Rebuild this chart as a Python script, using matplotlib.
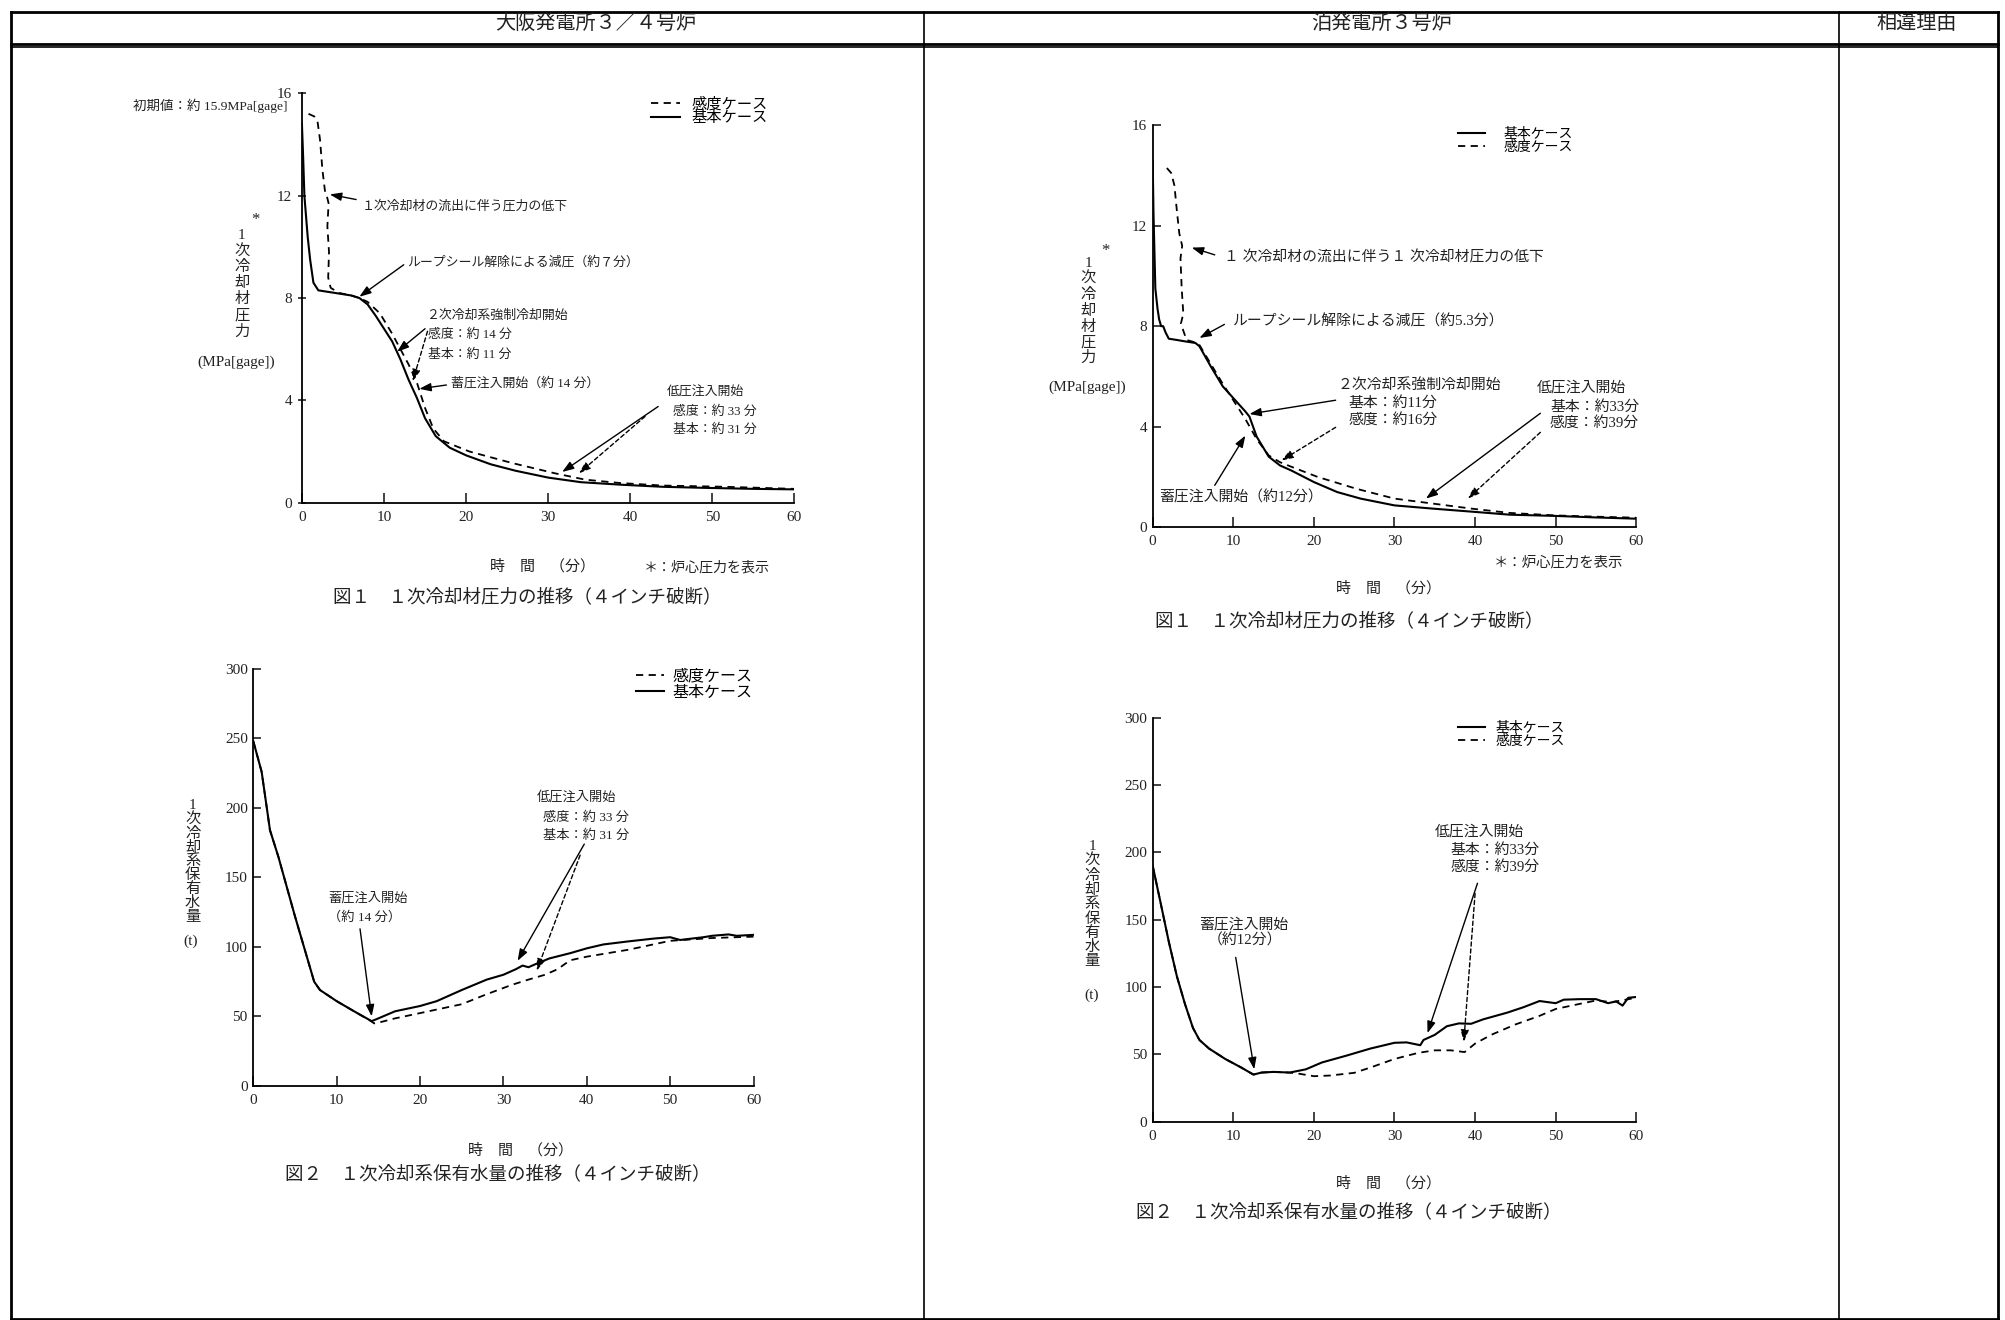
import matplotlib
matplotlib.use("Agg")
import matplotlib.pyplot as plt
from matplotlib.lines import Line2D

plt.rcParams['font.family'] = ['Liberation Serif', 'Noto Sans CJK JP', 'DejaVu Sans']

# ---- データ ----
# 大飯 図1 1次冷却材圧力
ohi_p_base_t = [0, 0.15, 0.3, 0.7, 1.0, 1.4, 2.0, 3, 4, 5, 6, 7, 8, 9, 10, 11, 12, 13, 14, 15, 16.3, 18, 20, 23, 26, 30, 34, 39, 44, 49, 55, 60]
ohi_p_base = [14.8, 13.5, 12.0, 10.4, 9.5, 8.6, 8.3, 8.25, 8.2, 8.15, 8.1, 8.0, 7.75, 7.3, 6.8, 6.3, 5.6, 4.8, 4.1, 3.3, 2.6, 2.15, 1.85, 1.5, 1.25, 0.98, 0.8, 0.7, 0.62, 0.58, 0.54, 0.52]
ohi_p_sens_t = [0.8, 1.5, 1.9, 2.2, 2.5, 2.8, 3.1, 3.25, 3.1, 3.3, 3.2, 3.5, 4.5, 6, 7, 8, 9.5, 11, 12, 13, 14, 15, 16, 17.3, 20.4, 25.6, 30.8, 34.5, 38.7, 43.9, 51.7, 60]
ohi_p_sens = [15.2, 15.1, 14.9, 14.2, 13.0, 12.2, 11.9, 11.7, 10.8, 9.8, 8.8, 8.4, 8.2, 8.1, 8.0, 7.85, 7.4, 6.6, 6.0, 5.4, 4.7, 3.7, 2.9, 2.4, 2.0, 1.55, 1.15, 0.9, 0.77, 0.67, 0.62, 0.54]

# 大飯 図2 1次冷却系保有水量
ohi_m_base_t = [0, 1, 2, 3, 5, 7.3, 8, 10, 12, 14.2, 15, 17, 20, 22, 25, 28, 30, 31.5, 32.3, 33, 34, 35.5, 38, 40, 42, 45, 48, 50, 51.2, 52, 54, 55, 57, 58, 60]
ohi_m_base = [248, 226, 184, 165, 122, 75, 69, 61, 54, 46.6, 48.6, 53.7, 57.5, 61, 69, 76.5, 80, 84, 86.6, 85.4, 88, 91.7, 95.5, 99, 101.8, 104, 106, 107, 105, 105.6, 107, 108, 109, 108, 108.7]
ohi_m_sens_t = [0, 1, 2, 3, 5, 7.3, 8, 10, 12, 14.0, 14.5, 15, 17, 20, 25, 28, 31, 33, 35, 36.5, 38, 40, 45, 50, 55, 60]
ohi_m_sens = [248, 226, 184, 165, 122, 75, 69, 61, 54, 47, 45, 45.5, 48.6, 52.4, 58.8, 66, 72.7, 76.5, 80, 84, 90.4, 93, 98, 104.4, 106.4, 107.4]

# 泊 図1 1次冷却材圧力
tom_p_base_t = [0, 0.1, 0.33, 0.6, 0.8, 1.05, 1.3, 1.6, 2.0, 3.0, 3.9, 5.3, 5.8, 7.2, 8.7, 10.1, 11.5, 12, 12.9, 14.4, 15.8, 17.2, 20, 22.9, 25.8, 30, 34.8, 40, 44.3, 50, 55, 60]
tom_p_base = [14.6, 12.5, 9.5, 8.7, 8.27, 8.0, 8.0, 7.75, 7.5, 7.45, 7.4, 7.33, 7.2, 6.4, 5.6, 5.1, 4.6, 4.4, 3.6, 2.8, 2.45, 2.25, 1.79, 1.39, 1.13, 0.86, 0.73, 0.6, 0.49, 0.44, 0.38, 0.33]
tom_p_sens_t = [1.76, 2.3, 2.7, 3.0, 3.3, 3.66, 3.45, 3.6, 3.8, 3.5, 4.2, 5.3, 5.8, 7.2, 8.7, 10.1, 11.5, 12.9, 14.4, 15.8, 17.2, 20.5, 25.3, 30, 34.8, 39.6, 44.3, 50, 55, 60]
tom_p_sens = [14.3, 14.1, 13.6, 12.6, 11.7, 11.2, 10.7, 9.5, 8.5, 8.1, 7.45, 7.35, 7.25, 6.5, 5.7, 5.0, 4.3, 3.5, 2.85, 2.58, 2.4, 1.99, 1.52, 1.13, 0.93, 0.73, 0.56, 0.46, 0.41, 0.37]

# 泊 図2 1次冷却系保有水量
tom_m_base_t = [0, 1, 2, 3, 4, 5, 5.8, 7, 9, 11, 12.5, 13.5, 15, 17, 19, 21, 24, 27, 30, 31.5, 33.2, 33.6, 35, 36.5, 38, 39.5, 41, 44, 46, 48, 50, 51, 53, 55, 56.5, 57.5, 58.3, 59, 60]
tom_m_base = [190, 162, 133.6, 108, 87.5, 69.6, 60.7, 54.3, 46.6, 40.2, 35, 36.5, 37, 36.5, 38.9, 44, 49, 54.3, 58.6, 58.9, 56.8, 60.7, 64.5, 70.9, 73, 72.7, 76, 81, 85, 89.6, 88, 90.6, 91, 91, 88, 89.3, 86.2, 92, 92.6]
tom_m_sens_t = [0, 1, 2, 3, 4, 5, 5.8, 7, 9, 11, 12.5, 13.5, 15, 17, 18, 20, 22, 25, 27, 30, 33, 35, 37, 38.7, 40, 42, 45, 48, 50, 53, 55, 57, 60]
tom_m_sens = [190, 162, 133.6, 108, 87.5, 69.6, 60.7, 54.3, 46.6, 40.2, 35, 36.5, 37, 36.5, 35.8, 33.8, 34.3, 36.3, 40.2, 46.6, 51.2, 53, 53, 51.7, 58, 64.5, 72.2, 78.6, 83.7, 87.5, 90, 88.8, 92]

p_ticks = [0, 4, 8, 12, 16]
m_ticks = [0, 50, 100, 150, 200, 250, 300]
t_ticks = [0, 10, 20, 30, 40, 50, 60]

fig = plt.figure(figsize=(20.06, 13.2), dpi=100)


# 表示座標(1568x1032)→図座標
def fx(d):
    return d / 1568


def fy(d):
    return 1 - d / 1032


def ftext(dx, dy, s, size=9, **kw):
    kw.setdefault('ha', 'center')
    kw.setdefault('va', 'center')
    fig.text(fx(dx), fy(dy), s, fontsize=size, color='#222222', **kw)


def vlabel(dx, dy0, dy1, s, size=11):
    n = len(s)
    for i, ch in enumerate(s):
        ftext(dx, dy0 + (dy1 - dy0) * i / (n - 1), ch, size=size)


def make_ax(l, r, t, b, ymax, yticks, ydir):
    ax = fig.add_axes([fx(l), fy(b), fx(r) - fx(l), fy(t) - fy(b)])
    ax.set_xlim(0, 60)
    ax.set_ylim(0, ymax)
    ax.set_xticks(t_ticks)
    ax.set_yticks(yticks)
    for s in ['top', 'right']:
        ax.spines[s].set_visible(False)
    for s in ['left', 'bottom']:
        ax.spines[s].set_linewidth(1.3)
    ax.tick_params(axis='x', direction='in', length=7, width=1.2, labelsize=11, pad=6, colors='#222222')
    ax.tick_params(axis='y', direction=ydir, length=6, width=1.2, labelsize=11, pad=4, colors='#222222')
    ax.patch.set_alpha(0)
    return ax


def arrow(ax, tail, head, dashed=False):
    ax.annotate('', xy=head, xytext=tail,
                arrowprops=dict(arrowstyle='-|>,head_length=0.7,head_width=0.25',
                                color='k', lw=1.0, linestyle=(0, (3, 2)) if dashed else '-',
                                shrinkA=0, shrinkB=0))


def atext(ax, x, y, s, size=9.3, ha='left'):
    ax.text(x, y, s, fontsize=size, ha=ha, va='center', color='#222222')


def legend(ax, handles, anchor, size, hlen, hpad):
    ax.legend(handles=handles, loc='upper left', bbox_to_anchor=anchor, frameon=False,
              fontsize=size, handlelength=hlen, labelspacing=0.0, borderpad=0,
              handletextpad=hpad)


solid_kw = dict(color='k', lw=1.5, ls='-')
dash_kw = dict(color='k', lw=1.3, ls=(0, (4, 3)))
RS = 10.7  # 泊側の注記サイズ

# ---- 大飯 図1 ----
axA = make_ax(236, 621, 73, 393, 16, p_ticks, 'inout')
lbA = axA.plot(ohi_p_base_t, ohi_p_base, label='基本ケース', **solid_kw)[0]
lsA = axA.plot(ohi_p_sens_t, ohi_p_sens, label='感度ケース', **dash_kw)[0]
legend(axA, [lsA, lbA], (0.694, 1.01), 11, 1.9, 0.75)
atext(axA, 7.3, 11.6, '１次冷却材の流出に伴う圧力の低下')
arrow(axA, (6.6, 11.85), (3.4, 12.05))
atext(axA, 12.8, 9.4, 'ループシール解除による減圧（約７分）')
arrow(axA, (12.4, 9.3), (7.0, 8.05))
atext(axA, 15.1, 7.3, '２次冷却系強制冷却開始')
atext(axA, 15.4, 6.55, '感度：約 14 分')
atext(axA, 15.4, 5.8, '基本：約 11 分')
arrow(axA, (15.0, 6.8), (11.6, 5.9))
arrow(axA, (15.3, 6.7), (13.5, 4.75), dashed=True)
atext(axA, 18.2, 4.68, '蓄圧注入開始（約 14 分）')
arrow(axA, (17.6, 4.6), (14.3, 4.45))
atext(axA, 44.4, 4.29, '低圧注入開始')
atext(axA, 45.2, 3.57, '感度：約 33 分')
atext(axA, 45.2, 2.85, '基本：約 31 分')
arrow(axA, (43.4, 3.76), (31.7, 1.2))
arrow(axA, (41.8, 3.37), (33.75, 1.15), dashed=True)

ftext(225, 83, '初期値：約 15.9MPa[gage]', size=9.7, ha='right')
vlabel(189, 184, 259, '1次冷却材圧力')
ftext(200, 172, '*', size=12)
ftext(184.6, 283, '(MPa[gage])', size=11)
ftext(424, 443, '時　間　（分）', size=10.8)
ftext(503, 444, '＊：炉心圧力を表示', size=10.1, ha='left')
ftext(412, 467, '図１　１次冷却材圧力の推移（４インチ破断）', size=13.3)

# ---- 大飯 図2 ----
axB = make_ax(198, 589, 523, 849, 300, m_ticks, 'in')
lbB = axB.plot(ohi_m_base_t, ohi_m_base, label='基本ケース', **solid_kw)[0]
lsB = axB.plot(ohi_m_sens_t, ohi_m_sens, label='感度ケース', **dash_kw)[0]
legend(axB, [lsB, lbB], (0.75, 1.02), 11.5, 1.72, 0.52)
atext(axB, 13.7, 134.8, '蓄圧注入開始', size=9.5, ha='center')
atext(axB, 13.3, 121, '（約 14 分）', size=9.5, ha='center')
arrow(axB, (12.8, 113), (14.2, 50))
atext(axB, 34.0, 208, '低圧注入開始', size=9.5)
atext(axB, 34.8, 193, '感度：約 33 分', size=9.5)
atext(axB, 34.8, 180.4, '基本：約 31 分', size=9.5)
arrow(axB, (39.7, 174), (31.7, 90))
arrow(axB, (39.2, 166), (34.0, 83), dashed=True)

vlabel(150.6, 630, 717, '1次冷却系保有水量')
ftext(149, 736, '(t)', size=11)
ftext(407, 899, '時　間　（分）', size=10.8)
ftext(389, 918, '図２　１次冷却系保有水量の推移（４インチ破断）', size=13.3)

# ---- 泊 図1 ----
axC = make_ax(901, 1279, 98, 412, 16, p_ticks, 'in')
lbC = axC.plot(tom_p_base_t, tom_p_base, label='基本ケース', **solid_kw)[0]
lsC = axC.plot(tom_p_sens_t, tom_p_sens, label='感度ケース', **dash_kw)[0]
legend(axC, [lbC, lsC], (0.617, 1.01), 10, 1.94, 1.37)
atext(axC, 8.9, 10.73, '１ 次冷却材の流出に伴う１ 次冷却材圧力の低下', size=RS)
arrow(axC, (7.7, 10.84), (4.85, 11.13))
atext(axC, 9.85, 8.2, 'ループシール解除による減圧（約5.3分）', size=RS)
arrow(axC, (8.9, 8.07), (5.8, 7.53))
atext(axC, 22.9, 5.67, '２次冷却系強制冷却開始', size=RS)
atext(axC, 24.3, 4.93, '基本：約11分', size=RS)
atext(axC, 24.3, 4.27, '感度：約16分', size=RS)
arrow(axC, (22.7, 5.05), (12.0, 4.5))
arrow(axC, (22.7, 3.97), (16.0, 2.65), dashed=True)
atext(axC, 0.8, 1.19, '蓄圧注入開始（約12分）', size=RS)
arrow(axC, (7.7, 1.66), (11.5, 3.64))
atext(axC, 47.6, 5.54, '低圧注入開始', size=RS)
atext(axC, 49.3, 4.79, '基本：約33分', size=RS)
atext(axC, 49.3, 4.13, '感度：約39分', size=RS)
arrow(axC, (48.1, 4.53), (33.9, 1.13))
arrow(axC, (48.1, 3.77), (39.1, 1.13), dashed=True)

vlabel(850.6, 206, 280, '1次冷却材圧力')
ftext(864, 196, '*', size=12)
ftext(850, 303, '(MPa[gage])', size=11)
ftext(1168, 440, '＊：炉心圧力を表示', size=10.4, ha='left')
ftext(1085, 460, '時　間　（分）', size=10.8)
ftext(1055, 486, '図１　１次冷却材圧力の推移（４インチ破断）', size=13.3)

# ---- 泊 図2 ----
axD = make_ax(901, 1279, 561, 877, 300, m_ticks, 'in')
lbD = axD.plot(tom_m_base_t, tom_m_base, label='基本ケース', **solid_kw)[0]
lsD = axD.plot(tom_m_sens_t, tom_m_sens, label='感度ケース', **dash_kw)[0]
legend(axD, [lbD, lsD], (0.617, 1.006), 10, 1.94, 0.74)
atext(axD, 5.8, 146.4, '蓄圧注入開始', size=RS)
atext(axD, 6.8, 134.4, '（約12分）', size=RS)
arrow(axD, (10.3, 122), (12.6, 38.9))
atext(axD, 35.0, 215, '低圧注入開始', size=RS)
atext(axD, 37.0, 201.4, '基本：約33分', size=RS)
atext(axD, 37.0, 189, '感度：約39分', size=RS)
arrow(axD, (40.3, 177), (34.1, 65.8))
arrow(axD, (40.0, 169.4), (38.6, 59.4), dashed=True)

vlabel(853.6, 662, 752, '1次冷却系保有水量')
ftext(853, 778, '(t)', size=11)
ftext(1085, 925, '時　間　（分）', size=10.8)
ftext(1054, 948, '図２　１次冷却系保有水量の推移（４インチ破断）', size=13.3)

# ---- 表の枠 ----
def hline(y, x0, x1, lw):
    fig.add_artist(Line2D([fx(x0), fx(x1)], [fy(y), fy(y)], color='k', lw=lw))


def vline(x, y0, y1, lw):
    fig.add_artist(Line2D([fx(x), fx(x)], [fy(y0), fy(y1)], color='k', lw=lw))


hline(9, 8.5, 1561.5, 2.0)
hline(34.5, 8.5, 1561.5, 2.0)
hline(36.5, 8.5, 1561.5, 1.2)
hline(1031, 8.5, 1561.5, 2.0)
vline(8.5, 9, 1031, 2.0)
vline(1561.5, 9, 1031, 2.0)
vline(722.5, 9, 1031, 1.2)
vline(1437.5, 9, 1031, 1.2)

ftext(466, 19, '大阪発電所３／４号炉', size=14.5)
ftext(1080, 19, '泊発電所３号炉', size=14.5)
ftext(1498, 19, '相違理由', size=14.5)

fig.savefig('out.png', dpi=100)
